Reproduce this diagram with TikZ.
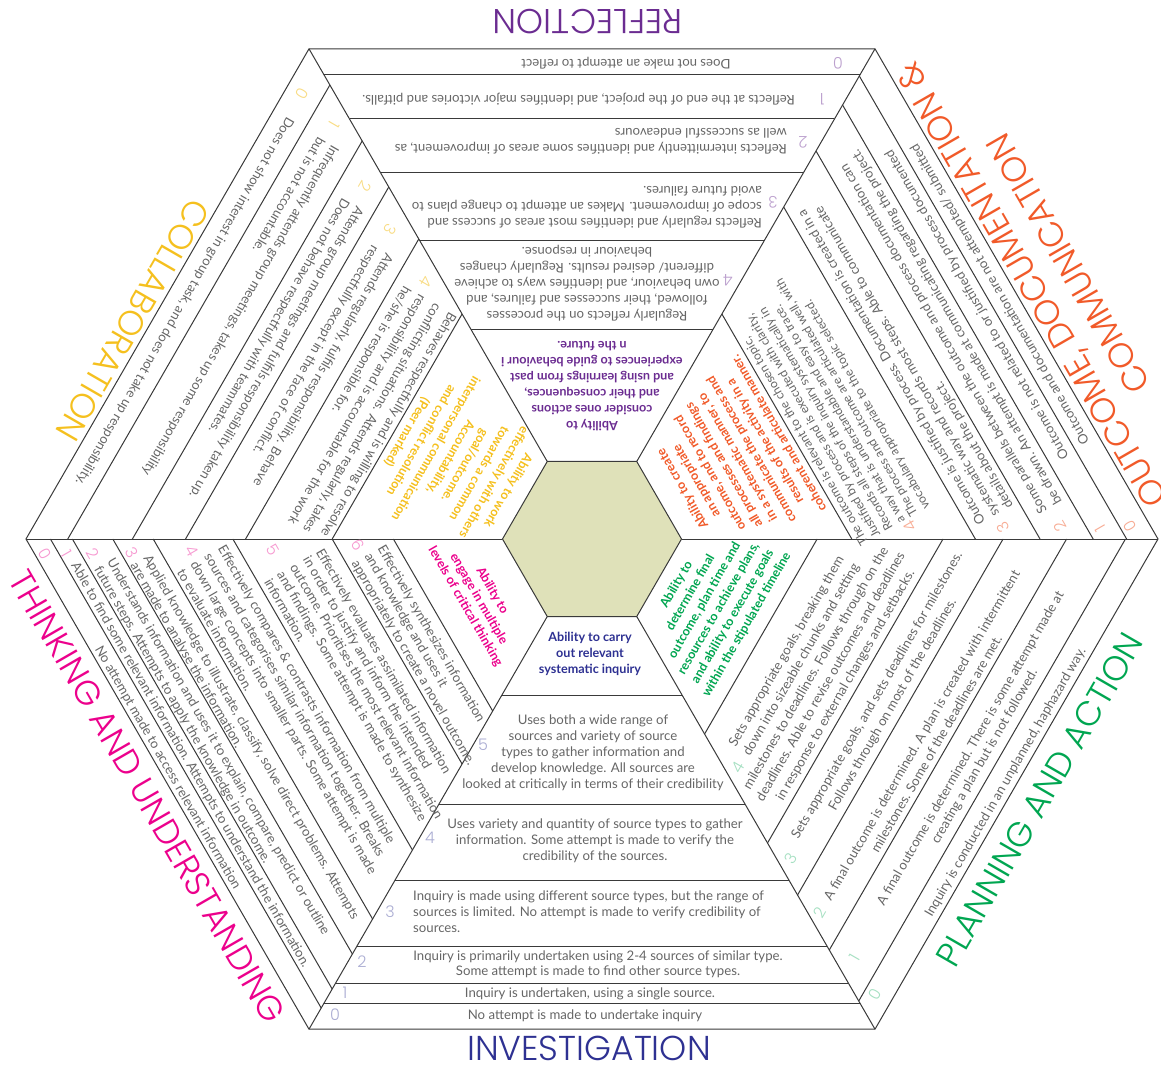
\documentclass[tikz,border=0pt]{standalone}
\usepackage{fontspec}
\setmainfont{Lato}
\IfFontExistsTF{Poppins Light}
  {\newfontfamily\areafont{Poppins Light}}
  {\newfontfamily\areafont{Poppins}}

\definecolor{txt}{HTML}{666666}
\definecolor{ruleclr}{HTML}{3A3A3A}
\definecolor{core}{HTML}{DFE1B9}
\definecolor{cRef}{HTML}{6B2C91}
\definecolor{cInv}{HTML}{2E3192}
\definecolor{cCol}{HTML}{F5C01E}
\definecolor{cOut}{HTML}{F15A29}
\definecolor{cPla}{HTML}{00A651}
\definecolor{cThi}{HTML}{EC008C}

\newcommand\bodyfont{\fontsize{13.2}{16}\selectfont}
\newcommand\headfont{\fontsize{12.6}{16}\selectfont\bfseries}
\newcommand\numfont{\areafont\fontsize{16}{16}\selectfont}
\newcommand\areasize{\areafont\fontsize{34.5}{43}\selectfont}

% band dividers of one sector: lines parallel to its outer edge
\newcommand\bands[2]{%
  \begin{scope}[rotate=#1]
    \foreach \d in {#2}{\draw[rule] ({-0.57735*\d},{-\d}) -- ({0.57735*\d},{-\d});}
  \end{scope}}

\begin{document}
\begin{tikzpicture}[x=1pt,y=1pt,
  rule/.style={draw=ruleclr, line width=1pt},
  body/.style={text=txt, font=\bodyfont, inner sep=0pt},
  lft/.style={body, align=left, anchor=west},
  ctr/.style={body, align=center},
  head/.style={font=\headfont, align=center, inner sep=0pt},
  num/.style={font=\numfont, inner sep=0pt},
  area/.style={font=\areasize, inner sep=0pt, align=center}]

\fill[white] (-592,-530) rectangle (569,539);
\useasboundingbox (-592,-530) rectangle (569,539);

% frame: outer hexagon, core hexagon and the six spokes
\draw[rule] (0:566) \foreach \a in {60,120,...,300} {-- (\a:566)} -- cycle;
\filldraw[rule, fill=core] (0:89.5) \foreach \a in {60,120,...,300} {-- (\a:89.5)} -- cycle;
\foreach \a in {0,60,...,300} \draw[rule] (\a:89.5) -- (\a:566);

\bands{180}{464,420,366,299,210}
\bands{240}{454,398,352,300,225}
\bands{300}{469,450,415,380,311,225,172}
\bands{0}{464,444,407,341,265,156}
\bands{60}{462,411,356,304,195}
\bands{120}{463,434,388,332,225}

% ---------------- REFLECTION ----------------
\begin{scope}[rotate=180, transform shape]
  \node[num, text=cRef!45] (ref0) at (-246,-476) {0};
  \node[num, text=cRef!45] (ref1) at (-230,-440) {1};
  \node[num, text=cRef!45] (ref2) at (-211,-397) {2};
  \node[num, text=cRef!45] (ref3) at (-181,-337) {3};
  \node[num, text=cRef!45] (ref4) at (-136,-259) {4};
  \node[ctr] (refA) at (-34,-476) {Does not make an attempt to reflect};
  \node[lft] (refB) at (-203,-440) {Reflects at the end of the project, and identifies major victories and pitfalls.};
  \node[lft] (refC) at (-195,-397.5) {Reflects intermittently and identifies some areas of improvement, as\\well as successful endeavours};
  \node[lft] (refD) at (-170,-332) {Reflects regularly and identifies most areas of success and\\scope of improvement. Makes an attempt to change plans to\\avoid future failures.};
  \node[ctr] (refE) at (5,-256) {Regularly reflects on the processes\\followed, their successes and failures, and\\own behaviour, and identifies ways to achieve\\different/ desired results. Regularly changes\\behaviour in response.};
  \node[head, text=cRef] (refT) at (0,-153) {Ability to\\consider ones actions\\and their consequences,\\and using learnings from past\\experiences to guide behaviour i\\n the future.};
  \node[area, text=cRef] (refL) at (4,-517) {REFLECTION};
\end{scope}

% ---------------- COLLABORATION ----------------
\begin{scope}[rotate=240, transform shape]
  \node[num, text=cCol!55] (col0) at (-241,-474) {0};
  \node[num, text=cCol!55] (col1) at (-230,-430) {1};
  \node[num, text=cCol!55] (col2) at (-192,-373) {2};
  \node[num, text=cCol!55] (col3) at (-167,-330) {3};
  \node[num, text=cCol!55] (col4) at (-140,-272) {4};
  \node[ctr] (colA) at (-2,-472) {Does not show interest in group task, and does not take up responsibility.};
  \node[lft] (colB) at (-212,-426) {Infrequently attends group meetings, takes up some responsibility\\but is not accountable.};
  \node[lft] (colC) at (-171,-375) {Attends group meetings and fulfils responsibility taken up.\\Does not behave respectfully with teammates.};
  \node[lft] (colD) at (-145,-326) {Attends regularly, fulfils responsibility. Behave\\respectfully except in the face of conflict.};
  \node[lft, font=\fontsize{13.2}{17.5}\selectfont] (colE) at (-126,-260) {Behaves respectfully and is willing to resolve\\conflicting situations. Attends regularly, takes\\responsibility and is accountable for the work\\he/she is responsible for.};
  \node[head, text=cCol, font=\fontsize{12.6}{16.7}\selectfont\bfseries] (colT) at (0,-155.5) {Ability to work\\effectively with others\\towards a common\\goal/outcome.\\Accountability,\\interpersonal communication\\and conflict resolution\\(Peer marked)};
  \node[area, text=cCol] (colL) at (40,-507) {COLLABORATION};
\end{scope}

% ---------------- THINKING AND UNDERSTANDING ----------------
\begin{scope}[rotate=300, transform shape]
  \node[num, text=cThi!40] (thi0) at (-261,-481) {0};
  \node[num, text=cThi!40] (thi1) at (-250,-462) {1};
  \node[num, text=cThi!40] (thi2) at (-237,-439) {2};
  \node[num, text=cThi!40] (thi3) at (-218,-405) {3};
  \node[num, text=cThi!40] (thi4) at (-190,-352) {4};
  \node[num, text=cThi!40] (thi5) at (-150,-282) {5};
  \node[num, text=cThi!40] (thi6) at (-112,-206) {6};
  \node[ctr] (thiA) at (-14,-482) {No attempt made to access relevant information};
  \node[ctr] (thiB) at (-5,-461) {Able to find some relevant information. Attempts to understand the information.};
  \node[lft, font=\fontsize{13.2}{15}\selectfont] (thiC) at (-223,-435.5) {Understands information and uses it to explain, compare, predict or outline\\future steps. Attempts to apply the knowledge in outcome.};
  \node[lft, font=\fontsize{13.2}{15}\selectfont] (thiD) at (-208,-402) {Applied knowledge to illustrate, classify, solve direct problems. Attempts\\are made to analyse the information.};
  \node[lft, font=\fontsize{13.2}{15.8}\selectfont] (thiE) at (-179,-348) {Effectively compares \& contrasts information from multiple\\sources and categorises similar information together. Breaks\\down large concepts into smaller parts. Some attempt is made\\to evaluate information.};
  \node[lft, font=\fontsize{13.2}{15}\selectfont] (thiF) at (-127,-271) {Effectively evaluates assimilated information\\in order to justify and inform the intended\\outcome. Prioritises the most relevant information\\and findings. Some attempt is made to synthesize\\information.};
  \node[lft, font=\fontsize{13.2}{15}\selectfont] (thiG) at (-99,-202) {Effectively synthesizes information\\and knowledge and uses it\\appropriately to create a novel outcome.};
  \node[head, text=cThi, font=\fontsize{12.6}{15.5}\selectfont\bfseries] (thiT) at (-5,-128) {Ability to\\engage in multiple\\levels of critical thinking};
  \node[area, text=cThi] (thiL) at (1,-514) {THINKING AND UNDERSTANDING};
\end{scope}

% ---------------- INVESTIGATION ----------------
\begin{scope}[rotate=0, transform shape]
  \node[num, text=cInv!40] (inv0) at (-257,-476) {0};
  \node[num, text=cInv!40] (inv1) at (-247,-454) {1};
  \node[num, text=cInv!40] (inv2) at (-230,-423) {2};
  \node[num, text=cInv!40] (inv3) at (-202,-373) {3};
  \node[num, text=cInv!40] (inv4) at (-162,-299) {4};
  \node[num, text=cInv!40] (inv5) at (-109,-206) {5};
  \node[ctr] (invA) at (-7,-477) {No attempt is made to undertake inquiry};
  \node[ctr] (invB) at (-2,-455) {Inquiry is undertaken, using a single source.};
  \node[ctr, font=\fontsize{13.2}{15}\selectfont] (invC) at (6,-425.5) {Inquiry is primarily undertaken using 2-4 sources of similar type.\\Some attempt is made to find other source types.};
  \node[lft] (invD) at (-179,-373) {Inquiry is made using different source types, but the range of\\sources is limited. No attempt is made to verify credibility of\\sources.};
  \node[ctr] (invE) at (3,-302) {Uses variety and quantity of source types to gather\\information. Some attempt is made to verify the\\credibility of the sources.};
  \node[ctr] (invF) at (1,-213.5) {Uses both a wide range of\\sources and variety of source\\types to gather information and\\develop knowledge. All sources are\\looked at critically in terms of their credibility};
  \node[head, text=cInv] (invT) at (-2,-115) {Ability to carry\\out relevant\\systematic inquiry};
  \node[area, text=cInv] (invL) at (-3,-509) {INVESTIGATION};
\end{scope}

% ---------------- PLANNING AND ACTION ----------------
\begin{scope}[rotate=60, transform shape]
  \node[num, text=cPla!35] (pla0) at (-253,-473) {0};
  \node[num, text=cPla!35] (pla1) at (-231,-437) {1};
  \node[num, text=cPla!35] (pla2) at (-210,-384) {2};
  \node[num, text=cPla!35] (pla3) at (-177,-332) {3};
  \node[num, text=cPla!35] (pla4) at (-125,-241) {4};
  \node[ctr] (plaA) at (-4,-480) {Inquiry is conducted in an unplanned, haphazard way.};
  \node[ctr] (plaB) at (8,-441) {A final outcome is determined. There is some attempt made at\\creating a plan but is not followed.};
  \node[ctr, font=\fontsize{13.2}{17}\selectfont] (plaC) at (-5,-392) {A final outcome is determined. A plan is created with intermittent\\milestones. Some of the deadlines are met.};
  \node[ctr, font=\fontsize{13.2}{18}\selectfont] (plaD) at (7,-334.5) {Sets appropriate goals, and sets deadlines for milestones.\\Follows through on most of the deadlines.};
  \node[ctr, font=\fontsize{13.2}{17}\selectfont] (plaE) at (0,-259) {Sets appropriate goals, breaking them\\down into sizeable chunks and setting\\milestones to deadlines. Follows through on the\\deadlines. Able to revise outcomes and deadlines\\in response to external changes and setbacks.};
  \node[head, text=cPla, font=\fontsize{12.6}{16.2}\selectfont\bfseries] (plaT) at (3,-136.5) {Ability to\\determine final\\outcome, plan time and\\resources to achieve plans,\\and ability to execute goals\\within the stipulated timeline};
  \node[area, text=cPla] (plaL) at (-2,-518) {PLANNING AND ACTION};
\end{scope}

% ---------------- OUTCOME, DOCUMENTATION & COMMUNICATION ----------------
\begin{scope}[rotate=120, transform shape]
  \node[num, text=cOut!50] (out0) at (-258,-472) {0};
  \node[num, text=cOut!50] (out1) at (-245,-445) {1};
  \node[num, text=cOut!50] (out2) at (-223,-411.5) {2};
  \node[num, text=cOut!50] (out3) at (-195,-362) {3};
  \node[num, text=cOut!50] (out4) at (-148,-282) {4};
  \node[lft] (outA) at (-164.5,-476) {Outcome and documentation are not attempted/ submitted};
  \node[lft] (outB) at (-167,-451) {Outcome is not related to or justified by process documented};
  \node[lft, font=\fontsize{13.2}{17}\selectfont] (outC) at (-203,-413.5) {Some parallels between the outcome and process documentation can\\be drawn. An attempt is made at communicating regarding the project.};
  \node[lft] (outD) at (-182,-362) {Outcome is justified by process. Documentation is created in a\\systematic way and records most steps. Able to communicate\\details about the project.};
  \node[lft, font=\fontsize{12.2}{14.3}\selectfont] (outE) at (-141,-270) {The outcome is relevant to the chosen topic,\\Justified by process and is executed with clarity,\\Records all steps of the inquiry systematically in\\a way that is understandable and easy to trace.\\The process and outcome are articulated well, with\\vocabulary appropriate to the topic selected.};
  \node[head, text=cOut, font=\fontsize{12.6}{15.9}\selectfont\bfseries] (outT) at (-2,-158.5) {Ability to create\\an appropriate\\outcome, and to record\\all processes and findings\\in a systematic manner, to\\communicate the process and\\results of the activity in a\\coherent and articulate manner.};
  \node[area, text=cOut] (outL) at (0,-528.5) {OUTCOME, DOCUMENTATION \&\\COMMUNICATION};
\end{scope}

\end{tikzpicture}
\end{document}
